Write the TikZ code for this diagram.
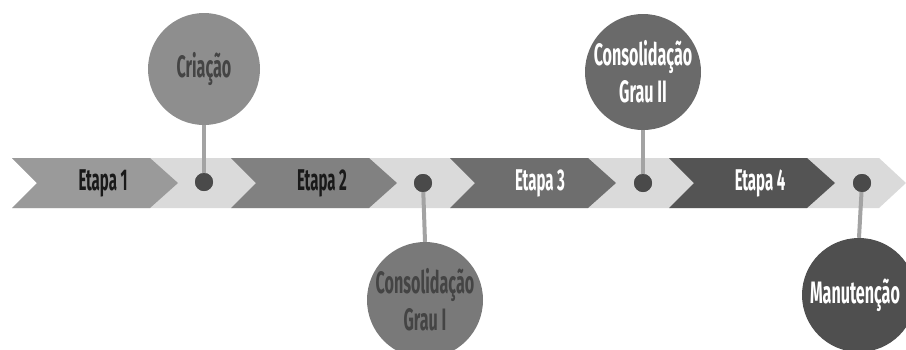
\documentclass[tikz,border=0pt]{standalone}
\usepackage{fontspec}
\newfontfamily\cond[FakeStretch=0.5]{Fira Sans}
\newfontfamily\condb[FakeStretch=0.52]{Fira Sans}
\definecolor{band}{HTML}{DADADA}
\definecolor{ch1}{HTML}{9A9A9A}
\definecolor{ch2}{HTML}{818181}
\definecolor{ch3}{HTML}{6E6E6E}
\definecolor{ch4}{HTML}{545454}
\definecolor{dotc}{HTML}{4A4A4A}
\definecolor{stem}{HTML}{A3A3A3}
\definecolor{darktxt}{HTML}{444444}
\tikzset{
  lbl/.style={font=\cond\bfseries\fontsize{30}{37}\selectfont, align=center, inner sep=0pt},
  blbl/.style={font=\condb\bfseries\fontsize{31}{37}\selectfont, align=center, inner sep=0pt},
  bubble/.style={circle, minimum size=#1, inner sep=0pt},
  dotn/.style={circle, fill=dotc, minimum size=18pt, inner sep=0pt},
  stemline/.style={draw=stem, line width=4pt}
}
\begin{document}
\begin{tikzpicture}[x=1pt,y=-1pt]
\useasboundingbox (0,0) rectangle (906,349);
\begin{scope}
\clip (0,0) rectangle (906,349);
% band
\fill[band] (12,158) -- (879,158) -- (906,183) -- (879,208) -- (12,208) -- (37,183) -- cycle;
% chevrons
\foreach \x/\c in {12/ch1, 231/ch2, 450/ch3, 669/ch4}{
  \fill[\c] (\x,158) -- ({\x+138},158) -- ({\x+166},183) -- ({\x+138},208) -- (\x,208) -- ({\x+25},183) -- cycle;
}
\node[lbl, text=black!90] (e1) at (103,183) {Etapa 1};
\node[lbl, text=black!90] (e2) at (322,183) {Etapa 2};
\node[lbl, text=white] (e3) at (540,183) {Etapa 3};
\node[lbl, text=white] (e4) at (760,183) {Etapa 4};
% dots
\node[dotn] (d1) at (204,182) {};
\node[dotn] (d2) at (423,183) {};
\node[dotn] (d3) at (643,183) {};
\node[dotn] (d4) at (862,183) {};
% bubbles
\node[bubble=112pt, fill=ch1!92!black] (c1) at (204,69) {};
\node[bubble=116pt, fill=ch2!94!black] (c2) at (425,300) {};
\node[bubble=116pt, fill=ch3!96!black] (c3) at (643,72) {};
\node[bubble=114pt, fill=ch4!94!black] (c4) at (859,295) {};
% stems
\draw[stemline] (c1.south) -- (d1.center);
\draw[stemline] (c2.north) -- (d2.center);
\draw[stemline] (c3.south) -- (d3.center);
\draw[stemline] (c4.north) -- (d4.center);
\node[dotn] at (d1) {};
\node[dotn] at (d2) {};
\node[dotn] at (d3) {};
\node[dotn] at (d4) {};
% bubble texts
\node[blbl, text=darktxt] (t1) at (c1) {Criação};
\node[blbl, text=darktxt] (t2) at (c2) {Consolidação\\Grau I};
\node[blbl, text=white] (t3) at (c3) {Consolidação\\Grau II};
\node[blbl, text=white] (t4) at (855,295) {Manutenção};
\end{scope}
\end{tikzpicture}
\end{document}
